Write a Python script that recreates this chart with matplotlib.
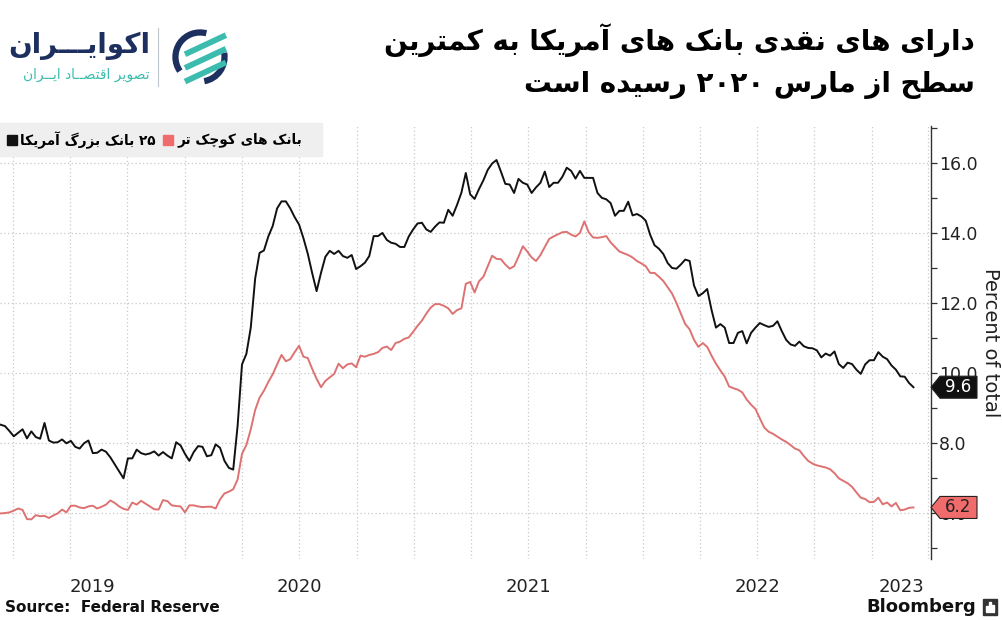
#!/usr/bin/env python3
"""Cash share of US bank assets: 25 largest banks vs smaller banks (Bloomberg chart, Ecoiran layout)."""

import re

import matplotlib
matplotlib.use("Agg")
import matplotlib.dates as mdates
import matplotlib.pyplot as plt
import matplotlib.transforms as mtransforms
import pandas as pd
from matplotlib.patches import Arc, Polygon, Rectangle

W, H = 1003, 620

START = "2019-03-13"
END = "2023-03-08"
XLIM = ("2019-03-12", "2023-04-05")

# weekly, percent of total assets
LARGE = [
    8.53, 8.49, 8.35, 8.20, 8.30, 8.40, 8.14, 8.34, 8.18, 8.13,
    8.58, 8.08, 8.02, 8.03, 8.11, 8.00, 8.07, 7.90, 7.85, 8.00,
    8.08, 7.72, 7.73, 7.82, 7.76, 7.60, 7.40, 7.20, 7.00, 7.57,
    7.57, 7.82, 7.72, 7.68, 7.71, 7.77, 7.65, 7.75, 7.65, 7.57,
    8.03, 7.94, 7.70, 7.50, 7.75, 7.92, 7.90, 7.63, 7.66, 7.97,
    7.87, 7.50, 7.30, 7.25, 8.50, 10.25, 10.55, 11.30, 12.70, 13.43,
    13.50, 13.90, 14.20, 14.70, 14.90, 14.90, 14.70, 14.45, 14.24, 13.85,
    13.40, 12.85, 12.34, 12.86, 13.32, 13.49, 13.40, 13.49, 13.34, 13.29,
    13.37, 12.97, 13.05, 13.15, 13.34, 13.91, 13.91, 14.00, 13.80, 13.72,
    13.69, 13.60, 13.60, 13.90, 14.10, 14.27, 14.29, 14.10, 14.03, 14.18,
    14.30, 14.29, 14.66, 14.49, 14.80, 15.15, 15.71, 15.10, 14.97, 15.25,
    15.50, 15.80, 15.98, 16.08, 15.75, 15.40, 15.38, 15.14, 15.54, 15.43,
    15.38, 15.14, 15.30, 15.43, 15.75, 15.31, 15.43, 15.43, 15.60, 15.86,
    15.77, 15.55, 15.77, 15.57, 15.57, 15.57, 15.14, 15.00, 14.96, 14.85,
    14.49, 14.63, 14.63, 14.89, 14.50, 14.54, 14.47, 14.35, 13.95, 13.65,
    13.55, 13.40, 13.14, 13.00, 12.98, 13.10, 13.24, 13.20, 12.50, 12.20,
    12.28, 12.40, 11.80, 11.30, 11.40, 11.30, 10.86, 10.86, 11.15, 11.20,
    10.85, 11.15, 11.30, 11.43, 11.37, 11.32, 11.35, 11.48, 11.20, 10.95,
    10.82, 10.78, 10.90, 10.77, 10.72, 10.71, 10.65, 10.45, 10.56, 10.50,
    10.62, 10.26, 10.15, 10.30, 10.26, 10.10, 9.98, 10.25, 10.37, 10.37,
    10.60, 10.47, 10.40, 10.22, 10.10, 9.91, 9.90, 9.72, 9.60,
]
SMALL = [
    6.00, 6.01, 6.03, 6.08, 6.14, 6.10, 5.84, 5.83, 5.95, 5.92,
    5.93, 5.87, 5.94, 6.00, 6.11, 6.03, 6.22, 6.22, 6.17, 6.15,
    6.20, 6.22, 6.14, 6.19, 6.25, 6.37, 6.30, 6.20, 6.13, 6.10,
    6.31, 6.25, 6.36, 6.28, 6.20, 6.12, 6.11, 6.38, 6.35, 6.23,
    6.21, 6.20, 6.03, 6.23, 6.23, 6.20, 6.18, 6.19, 6.19, 6.14,
    6.40, 6.57, 6.62, 6.69, 6.97, 7.70, 7.95, 8.40, 8.95, 9.30,
    9.50, 9.75, 9.97, 10.25, 10.52, 10.34, 10.40, 10.60, 10.78, 10.47,
    10.43, 10.12, 9.84, 9.60, 9.78, 9.88, 9.98, 10.27, 10.14, 10.25,
    10.28, 10.17, 10.50, 10.47, 10.52, 10.55, 10.60, 10.72, 10.76, 10.66,
    10.86, 10.90, 10.98, 11.02, 11.18, 11.35, 11.50, 11.70, 11.87, 11.97,
    11.97, 11.92, 11.85, 11.69, 11.80, 11.85, 12.55, 12.60, 12.30, 12.62,
    12.75, 13.05, 13.35, 13.26, 13.25, 13.10, 12.98, 13.05, 13.32, 13.62,
    13.47, 13.30, 13.20, 13.37, 13.60, 13.83, 13.90, 13.96, 14.02, 14.03,
    13.95, 13.90, 14.00, 14.33, 14.02, 13.87, 13.86, 13.88, 13.91, 13.73,
    13.60, 13.47, 13.42, 13.37, 13.30, 13.20, 13.13, 13.05, 12.86, 12.86,
    12.75, 12.63, 12.45, 12.27, 12.00, 11.70, 11.40, 11.25, 10.95, 10.75,
    10.86, 10.75, 10.50, 10.27, 10.08, 9.90, 9.62, 9.57, 9.53, 9.45,
    9.25, 9.10, 8.98, 8.71, 8.45, 8.33, 8.27, 8.19, 8.11, 8.04,
    7.95, 7.85, 7.80, 7.64, 7.50, 7.42, 7.37, 7.34, 7.31, 7.26,
    7.15, 7.00, 6.93, 6.86, 6.76, 6.60, 6.45, 6.41, 6.32, 6.33,
    6.45, 6.26, 6.31, 6.20, 6.30, 6.09, 6.11, 6.16, 6.17,
]

LARGE_LABEL = "۲۵ بانک بزرگ آمریکا"
SMALL_LABEL = "بانک های کوچک تر"
TITLE = ["دارای های نقدی بانک های آمریکا به کمترین", "سطح از مارس ۲۰۲۰ رسیده است"]
LOGO_NAME = "اکوایـــران"
LOGO_TAG = "تصویر اقتصــاد ایــران"
YTICKS = [6, 8, 10, 12, 14, 16]
YEARS = [2019, 2020, 2021, 2022, 2023]

BLACK = "#111111"
RED = "#de7272"
RED_TAG = "#f06b6b"
NAVY = "#1d2f5e"
TEAL = "#3cbcae"
GRID = "#c9c9c9"

# --- minimal Persian shaping (no arabic_reshaper in the sandbox) -------------
FORMS = {
    "ا": (0xFE8D, 0xFE8E, None, None), "آ": (0xFE81, 0xFE82, None, None),
    "ب": (0xFE8F, 0xFE90, 0xFE91, 0xFE92), "پ": (0xFB56, 0xFB57, 0xFB58, 0xFB59),
    "ت": (0xFE95, 0xFE96, 0xFE97, 0xFE98), "ح": (0xFEA1, 0xFEA2, 0xFEA3, 0xFEA4),
    "چ": (0xFB7A, 0xFB7B, 0xFB7C, 0xFB7D), "د": (0xFEA9, 0xFEAA, None, None),
    "ر": (0xFEAD, 0xFEAE, None, None), "ز": (0xFEAF, 0xFEB0, None, None),
    "ژ": (0xFB8A, 0xFB8B, None, None), "س": (0xFEB1, 0xFEB2, 0xFEB3, 0xFEB4),
    "ص": (0xFEB9, 0xFEBA, 0xFEBB, 0xFEBC), "ط": (0xFEC1, 0xFEC2, 0xFEC3, 0xFEC4),
    "ق": (0xFED5, 0xFED6, 0xFED7, 0xFED8), "ک": (0xFB8E, 0xFB8F, 0xFB90, 0xFB91),
    "گ": (0xFB92, 0xFB93, 0xFB94, 0xFB95), "م": (0xFEE1, 0xFEE2, 0xFEE3, 0xFEE4),
    "ن": (0xFEE5, 0xFEE6, 0xFEE7, 0xFEE8), "ه": (0xFEE9, 0xFEEA, 0xFEEB, 0xFEEC),
    "و": (0xFEED, 0xFEEE, None, None), "ی": (0xFBFC, 0xFBFD, 0xFBFE, 0xFBFF),
}
TATWEEL = "ـ"


def _dual(c):
    return c == TATWEEL or (c in FORMS and FORMS[c][2] is not None)


def fa(text):
    out = []
    for i, c in enumerate(text):
        if c not in FORMS:
            out.append(c)
            continue
        prev = text[i - 1] if i > 0 else ""
        nxt = text[i + 1] if i + 1 < len(text) else ""
        iso, fin, ini, med = FORMS[c]
        p = _dual(prev)
        n = ini is not None and (nxt in FORMS or nxt == TATWEEL)
        code = med if (p and n) else fin if p else ini if n else iso
        out.append(chr(code))
    s = "".join(out)
    runs = re.findall(r"[0-9۰-۹]+|[^0-9۰-۹]+", s)
    return "".join(r if re.match(r"[0-9۰-۹]", r) else r[::-1] for r in reversed(runs))


def fx(px):
    return px / W


def fy(py):
    return 1 - py / H


def draw_header(fig):
    bold = dict(family="DejaVu Sans", weight="bold", color="black")
    fig.text(fx(975), fy(40), fa(TITLE[0]), fontsize=20, ha="right", va="center", **bold)
    fig.text(fx(975), fy(85), fa(TITLE[1]), fontsize=20, ha="right", va="center", **bold)

    fig.text(fx(150), fy(46), fa(LOGO_NAME), fontsize=20, ha="right", va="center",
             family="DejaVu Sans", weight="bold", color=NAVY)
    fig.text(fx(150), fy(75), fa(LOGO_TAG), fontsize=10, ha="right", va="center",
             family="DejaVu Sans", color=TEAL)
    fig.add_artist(plt.Line2D([fx(158), fx(158)], [fy(28), fy(86)], color="#bfc5cc", lw=0.8))

    icon = fig.add_axes([fx(170), fy(87), fx(60), 60 / H])
    icon.set_xlim(-1.1, 1.1)
    icon.set_ylim(-1.1, 1.1)
    icon.set_aspect("equal")
    icon.axis("off")
    icon.add_patch(Arc((0, 0), 1.8, 1.8, theta1=75, theta2=215, color=NAVY, lw=4.5))
    icon.add_patch(Arc((0, 0), 1.8, 1.8, theta1=-80, theta2=10, color=NAVY, lw=4.5))
    for off in (-0.55, -0.05, 0.45):
        icon.plot([-0.55, 0.95], [off - 0.35, off + 0.35], color=TEAL, lw=4.2,
                  solid_capstyle="butt")


def draw_legend(fig):
    fig.add_artist(Rectangle((0, fy(156)), fx(322), 33 / H, color="#efefef", zorder=5))
    font = dict(family="DejaVu Sans", weight="bold", fontsize=9.8, color="black",
                va="center", zorder=6)
    fig.add_artist(Rectangle((fx(7), fy(145)), fx(10), 10 / H, color=BLACK, zorder=6))
    fig.text(fx(20), fy(140), fa(LARGE_LABEL), ha="left", **font)
    fig.add_artist(Rectangle((fx(163), fy(145)), fx(10), 10 / H, color=RED_TAG, zorder=6))
    fig.text(fx(178), fy(140), fa(SMALL_LABEL), ha="left", **font)


def value_tag(ax, value, face, text_color):
    tr = mtransforms.blended_transform_factory(ax.transAxes, ax.transData)
    x0, x1, notch, half = 1.0, 1.0 + 46 / 931, 1.0 + 9 / 931, 11 / 35
    pts = [(x0, value), (notch, value + half), (x1, value + half),
           (x1, value - half), (notch, value - half)]
    ax.add_patch(Polygon(pts, closed=True, transform=tr, clip_on=False,
                         facecolor=face, edgecolor="#222222", lw=0.8, zorder=10))
    ax.text((notch + x1) / 2, value, f"{value:.1f}", transform=tr, ha="center", va="center",
            fontsize=12, color=text_color, zorder=11)


def main():
    dates = pd.date_range(START, END, freq="7D")
    lo, hi = pd.Timestamp(XLIM[0]), pd.Timestamp(XLIM[1])

    fig = plt.figure(figsize=(W / 100, H / 100), dpi=100)
    ax = fig.add_axes([0, fy(559), fx(931), (559 - 126) / H])

    ax.plot(dates, SMALL, color=RED, lw=1.4, zorder=3)
    ax.plot(dates, LARGE, color=BLACK, lw=1.4, zorder=4)

    ax.set_xlim(lo, hi)
    ax.set_ylim(4.7, 17.05)

    ax.yaxis.tick_right()
    ax.set_yticks(YTICKS)
    ax.set_yticklabels([f"{v:.1f}" for v in YTICKS])
    ax.set_yticks([5, 7, 9, 11, 13, 15, 17], minor=True)
    ax.tick_params(axis="y", which="both", direction="out", length=4, width=0.9,
                   color="#333333", labelsize=12.5, labelcolor="#222222", pad=2)
    ax.yaxis.set_label_position("right")
    ax.set_ylabel("Percent of total", rotation=270, fontsize=14, color="#222222",
                  labelpad=16)

    mids = []
    for year in YEARS:
        a = max(pd.Timestamp(f"{year}-01-01"), lo)
        b = min(pd.Timestamp(f"{year + 1}-01-01"), hi)
        mids.append(a + (b - a) / 2)
    ax.set_xticks(mids)
    ax.set_xticklabels([str(y) for y in YEARS])
    ax.xaxis.set_minor_locator(mdates.MonthLocator(bymonth=[1, 4, 7, 10]))
    ax.tick_params(axis="x", which="both", length=0, labelsize=13, labelcolor="#222222",
                   pad=14)

    ax.grid(axis="x", which="minor", color=GRID, lw=0.9, ls=(0, (1, 2)))
    ax.grid(axis="y", which="major", color=GRID, lw=0.9, ls=(0, (1, 2)))
    ax.set_axisbelow(True)
    for side in ("top", "left", "bottom"):
        ax.spines[side].set_visible(False)
    ax.spines["right"].set_color("#333333")
    ax.spines["right"].set_linewidth(1.0)

    value_tag(ax, LARGE[-1], BLACK, "white")
    value_tag(ax, SMALL[-1], RED_TAG, "#222222")

    draw_header(fig)
    draw_legend(fig)

    fig.text(fx(5), fy(608), "Source:  Federal Reserve", fontsize=11, weight="bold",
             ha="left", va="center", color="#111111")
    fig.text(fx(976), fy(607), "Bloomberg", fontsize=13, weight="bold",
             ha="right", va="center", color="#111111")
    fig.add_artist(Rectangle((fx(983), fy(615)), fx(14), 16 / H, color="#333333"))
    for bx, bh in ((986.5, 6), (989.5, 10), (992.5, 7)):
        fig.add_artist(Rectangle((fx(bx), fy(612)), fx(1.5), bh / H, color="white"))

    fig.savefig("out.png", dpi=100)
    plt.close(fig)


if __name__ == "__main__":
    main()
